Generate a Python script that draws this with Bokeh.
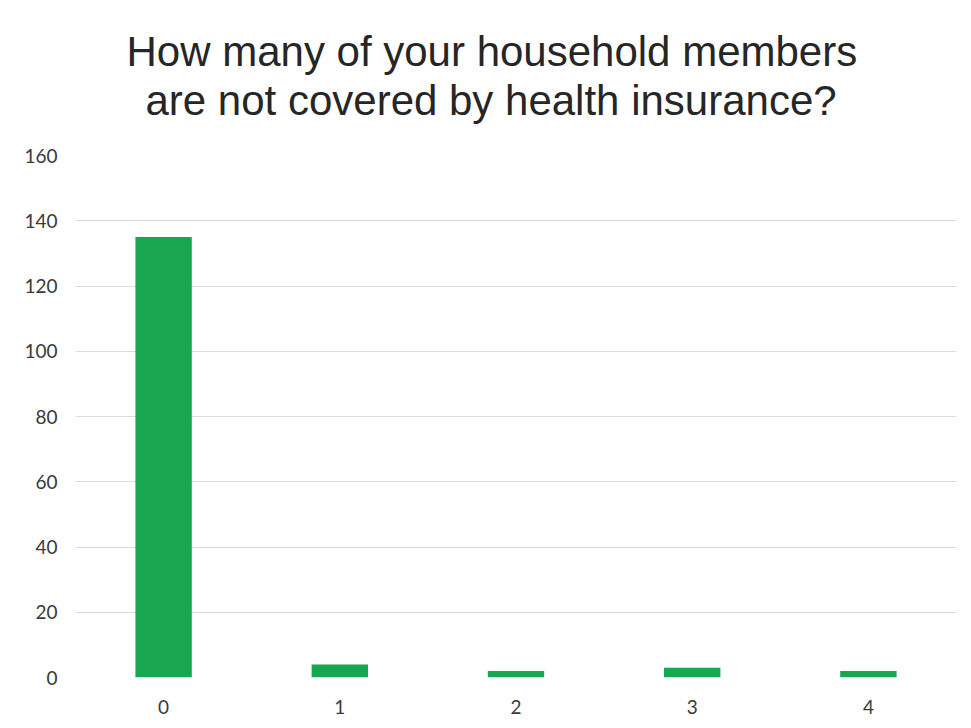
from bokeh.plotting import figure
from bokeh.models import Range1d, FactorRange, Title, ColumnDataSource
from bokeh.embed import file_html
from bokeh.resources import INLINE

categories = ["0", "1", "2", "3", "4"]
counts = [135, 4, 2, 3, 2]
y_ticks = [0, 20, 40, 60, 80, 100, 120, 140, 160]
title_line1 = "How many of your household members"
title_line2 = "are not covered by health insurance?"

src = ColumnDataSource(dict(cat=categories, val=counts))

p = figure(width=963, height=720, output_backend="svg", toolbar_location=None,
           x_range=FactorRange(*categories, range_padding=0),
           y_range=Range1d(0, 160),
           min_border_left=75, min_border_right=7, min_border_top=155, min_border_bottom=43)
p.title = None
# spacer between chart frame and title block
p.add_layout(Title(text=" ", text_font_size="26px", standoff=0), "above")
for txt, off in ((title_line2, 70), (title_line1, 51)):
    t = Title(text=txt, align="left", text_font="Liberation Sans",
              text_font_size="42px", text_font_style="normal", text_color="#262626",
              standoff=0, offset=off)
    p.add_layout(t, "above")

p.vbar(x="cat", top="val", width=0.32, source=src, color="#19a650", line_color=None)

p.outline_line_color = None
p.xgrid.grid_line_color = None
p.ygrid.grid_line_color = "#dcdcdc"
p.ygrid.grid_line_width = 1
p.yaxis.ticker = y_ticks
for ax in (p.xaxis, p.yaxis):
    ax.axis_line_color = None
    ax.major_tick_line_color = None
    ax.minor_tick_line_color = None
    ax.major_label_text_font = "Lato"
    ax.major_label_text_font_size = "19px"
    ax.major_label_text_color = "#3a3a3a"
p.yaxis.major_label_standoff = 12
p.xaxis.major_label_standoff = 16

open("out.html", "w").write(file_html(p, INLINE))
